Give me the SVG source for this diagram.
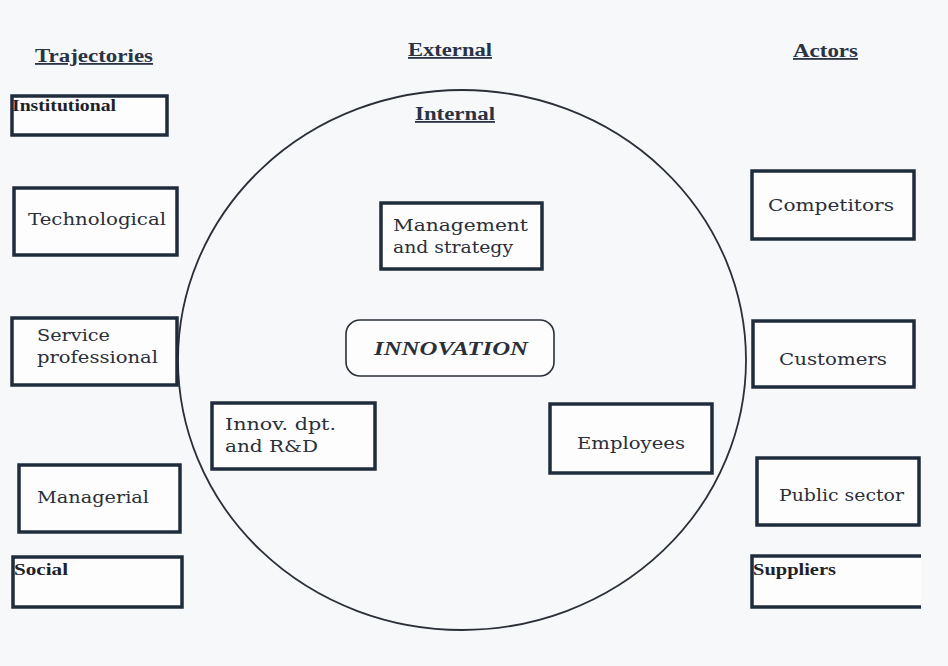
<svg xmlns="http://www.w3.org/2000/svg" width="948" height="666" viewBox="0 0 948 666">
<style>
.box{fill:#fdfdfe;stroke:#1f2c3c;stroke-width:3.5}
.t{font-family:"DejaVu Serif","Liberation Serif",serif;font-size:16px;fill:#2a2f38}
.s{font-family:"Liberation Serif",serif;font-size:16px;font-weight:bold;fill:#1d222a}
.h{font-family:"Liberation Serif",serif;font-size:18px;font-weight:bold;fill:#2a3344;text-decoration:underline}
</style>
<rect width="948" height="666" fill="#f7f8fa"/>
<g id="circle">
<ellipse cx="462" cy="360" rx="284" ry="270" fill="none" stroke="#2a2f38" stroke-width="1.8"/>
</g>
<g id="titles">
<text class="h" x="35" y="62" textLength="118" lengthAdjust="spacingAndGlyphs">Trajectories</text>
<text class="h" x="408" y="56" textLength="84" lengthAdjust="spacingAndGlyphs">External</text>
<text class="h" x="793" y="57" textLength="65" lengthAdjust="spacingAndGlyphs">Actors</text>
<text class="h" x="415" y="120" textLength="80" lengthAdjust="spacingAndGlyphs">Internal</text>
</g>
<g id="institutional"><rect class="box" x="12" y="96" width="155" height="39"/><text class="s" x="12" y="111" textLength="104" lengthAdjust="spacingAndGlyphs">Institutional</text></g>
<g id="technological"><rect class="box" x="14" y="188" width="163" height="67"/><text class="t" x="28" y="225" textLength="138" lengthAdjust="spacingAndGlyphs">Technological</text></g>
<g id="service"><rect class="box" x="12" y="318" width="165" height="67"/><text class="t" x="37" y="341" textLength="73" lengthAdjust="spacingAndGlyphs">Service</text><text class="t" x="37" y="363" textLength="121" lengthAdjust="spacingAndGlyphs">professional</text></g>
<g id="managerial"><rect class="box" x="19" y="465" width="161" height="67"/><text class="t" x="37" y="503" textLength="112" lengthAdjust="spacingAndGlyphs">Managerial</text></g>
<g id="social"><rect class="box" x="13" y="557" width="169" height="50"/><text class="s" x="14" y="575" textLength="54" lengthAdjust="spacingAndGlyphs">Social</text></g>
<g id="management"><rect class="box" x="381" y="203" width="161" height="66"/><text class="t" x="393" y="231" textLength="135" lengthAdjust="spacingAndGlyphs">Management</text><text class="t" x="393" y="253" textLength="120" lengthAdjust="spacingAndGlyphs">and strategy</text></g>
<g id="innovation"><rect x="346" y="320" width="208" height="56" rx="14" fill="#fdfdfe" stroke="#2a2f38" stroke-width="1.6"/><text x="374" y="355" textLength="154" lengthAdjust="spacingAndGlyphs" style="font-family:'Liberation Serif',serif;font-size:18px;font-weight:bold;font-style:italic;fill:#2a2f38">INNOVATION</text></g>
<g id="innov-dpt"><rect class="box" x="212" y="403" width="163" height="66"/><text class="t" x="225" y="430" textLength="111" lengthAdjust="spacingAndGlyphs">Innov. dpt.</text><text class="t" x="225" y="452" textLength="93" lengthAdjust="spacingAndGlyphs">and R&amp;D</text></g>
<g id="employees"><rect class="box" x="550" y="404" width="162" height="69"/><text class="t" x="577" y="449" textLength="108" lengthAdjust="spacingAndGlyphs">Employees</text></g>
<g id="competitors"><rect class="box" x="752" y="171" width="162" height="68"/><text class="t" x="768" y="211" textLength="126" lengthAdjust="spacingAndGlyphs">Competitors</text></g>
<g id="customers"><rect class="box" x="753" y="321" width="161" height="66"/><text class="t" x="779" y="365" textLength="108" lengthAdjust="spacingAndGlyphs">Customers</text></g>
<g id="public"><rect class="box" x="757" y="458" width="162" height="67"/><text class="t" x="779" y="501" textLength="125" lengthAdjust="spacingAndGlyphs">Public sector</text></g>
<g id="suppliers"><path d="M921 556 H752 V607 H921" fill="#fdfdfe" stroke="#1f2c3c" stroke-width="3.5"/><text class="s" x="753" y="575" textLength="83" lengthAdjust="spacingAndGlyphs">Suppliers</text></g>
<g id="connectors"></g>
</svg>
